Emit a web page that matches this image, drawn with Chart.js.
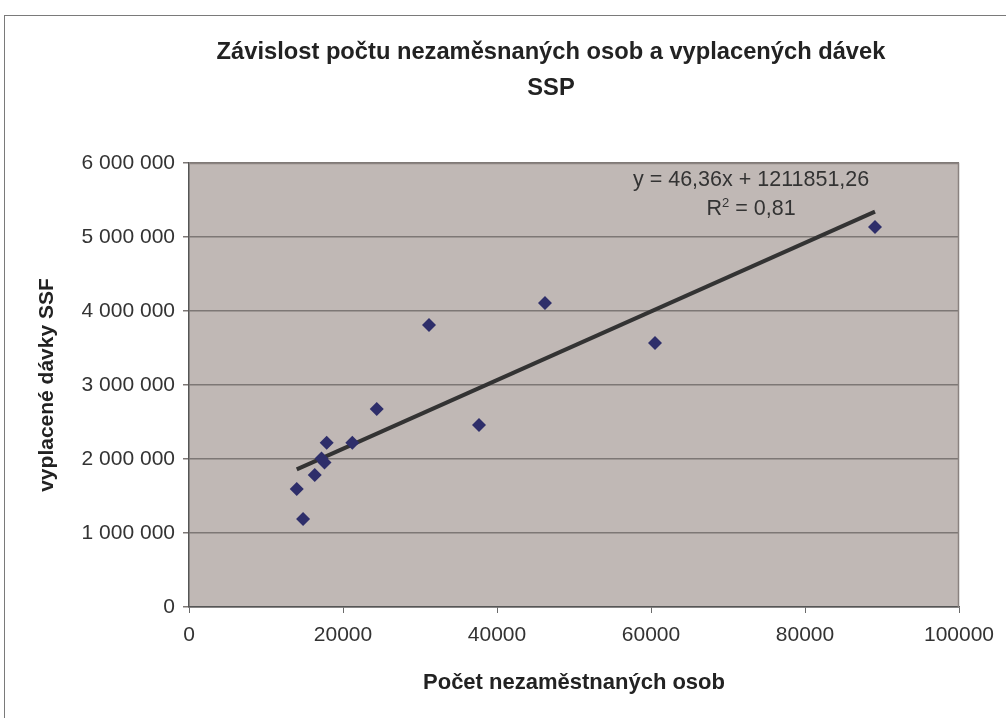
<!DOCTYPE html>
<html>
<head>
<meta charset="utf-8">
<script src="https://cdn.jsdelivr.net/npm/chart.js@4.4.0/dist/chart.umd.min.js"></script>
<style>
  html, body { margin: 0; padding: 0; background: #ffffff; }
  #wrap { position: relative; width: 1006px; height: 718px; }
  canvas { display: block; }
</style>
</head>
<body>
<div id="wrap"><canvas id="c" width="1006" height="718"></canvas></div>
<script>
// ---- data ----
const unemployed = [13990, 14810, 16330, 17210, 17600, 17880, 21210, 24380, 31170, 37660, 46230, 60520, 89090];
const benefits = [1595000, 1189000, 1784000, 2007000, 1953000, 2220000, 2220000, 2676000, 3811000, 2459000, 4108000, 3568000, 5135000];
const trendSlope = 46.36;
const trendIntercept = 1211851.26;
const equationText = 'y = 46,36x + 1211851,26';
const rSquaredText = ' = 0,81';
const titleLines = ['Závislost počtu nezaměsnaných osob a vyplacených dávek', 'SSP'];
const xAxisTitle = 'Počet nezaměstnaných osob';
const yAxisTitle = 'vyplacené dávky SSF';
const xTickValues = [0, 20000, 40000, 60000, 80000, 100000];
const xTickLabels = ['0', '20000', '40000', '60000', '80000', '100000'];
const yTickValues = [0, 1000000, 2000000, 3000000, 4000000, 5000000, 6000000];
const yTickLabels = ['0', '1 000 000', '2 000 000', '3 000 000', '4 000 000', '5 000 000', '6 000 000'];

const points = unemployed.map((x, i) => ({x: x, y: benefits[i]}));
const xMin = Math.min(...unemployed), xMax = Math.max(...unemployed);
const trend = [
  {x: xMin, y: trendSlope * xMin + trendIntercept},
  {x: xMax, y: trendSlope * xMax + trendIntercept}
];

const FONT = "'Liberation Sans', Arial, sans-serif";
const TEXT = '#333333';

const framePlugin = {
  id: 'frame',
  beforeDraw(chart) {
    const ctx = chart.ctx;
    ctx.save();
    ctx.strokeStyle = '#7a7a7a';
    ctx.lineWidth = 1;
    ctx.strokeRect(4.5, 15.5, 1200, 900);
    const a = chart.chartArea;
    ctx.fillStyle = '#c0b8b5';
    ctx.fillRect(a.left, a.top, a.right - a.left, a.bottom - a.top);
    // chart title
    ctx.fillStyle = '#222222';
    ctx.font = 'bold 23.7px ' + FONT;
    ctx.textAlign = 'center';
    ctx.textBaseline = 'middle';
    ctx.fillText(titleLines[0], 551, 52);
    ctx.fillText(titleLines[1], 551, 88);
    ctx.restore();
  },
  afterDatasetsDraw(chart) {
    const ctx = chart.ctx;
    const a = chart.chartArea;
    ctx.save();
    ctx.strokeStyle = '#8a8280';
    ctx.lineWidth = 1.5;
    ctx.beginPath();
    ctx.moveTo(a.left, a.top + 0.5);
    ctx.lineTo(a.right - 0.5, a.top + 0.5);
    ctx.lineTo(a.right - 0.5, a.bottom);
    ctx.stroke();
    // equation label placed in data space
    const xs = chart.scales.x, ys = chart.scales.y;
    const cx = xs.getPixelForValue(73000);
    ctx.fillStyle = TEXT;
    ctx.textBaseline = 'middle';
    ctx.font = '21.5px ' + FONT;
    ctx.textAlign = 'center';
    ctx.fillText(equationText, cx, ys.getPixelForValue(5770000));
    const ry = ys.getPixelForValue(5375000);
    const wR = ctx.measureText('R').width;
    const wRest = ctx.measureText(rSquaredText).width;
    ctx.font = '13px ' + FONT;
    const w2 = ctx.measureText('2').width;
    const total = wR + w2 + wRest;
    let x0 = cx - total / 2;
    ctx.textAlign = 'left';
    ctx.font = '21.5px ' + FONT;
    ctx.fillText('R', x0, ry);
    ctx.font = '13px ' + FONT;
    ctx.fillText('2', x0 + wR, ry - 6);
    ctx.font = '21.5px ' + FONT;
    ctx.fillText(rSquaredText, x0 + wR + w2, ry);
    ctx.restore();
  }
};

new Chart(document.getElementById('c'), {
  type: 'scatter',
  data: {
    datasets: [
      {
        label: 'data',
        data: points,
        pointStyle: 'rectRot',
        pointRadius: 7,
        pointHoverRadius: 7,
        backgroundColor: '#2e2e6a',
        borderColor: '#2e2e6a',
        borderWidth: 0,
        order: 1
      },
      {
        label: 'trend',
        type: 'line',
        data: trend,
        borderColor: '#333333',
        borderWidth: 4,
        pointRadius: 0,
        fill: false,
        order: 2
      }
    ]
  },
  plugins: [framePlugin],
  options: {
    responsive: false,
    animation: false,
    events: [],
    layout: { padding: { left: 0, right: 47, top: 163, bottom: 0 } },
    plugins: {
      legend: { display: false },
      tooltip: { enabled: false },
      title: { display: false }
    },
    scales: {
      x: {
        type: 'linear',
        min: 0, max: 100000,
        afterBuildTicks(scale) { scale.ticks = xTickValues.map(v => ({value: v})); },
        afterFit(scale) { scale.height = 111; },
        ticks: {
          color: TEXT,
          font: { family: FONT, size: 21 },
          padding: 10,
          maxRotation: 0,
          callback(v) { const i = xTickValues.indexOf(v); return i >= 0 ? xTickLabels[i] : ''; }
        },
        grid: { drawOnChartArea: false, drawTicks: true, tickLength: 6, color: '#6a6a6a' },
        border: { color: '#555555', width: 1.5 },
        title: {
          display: true,
          text: xAxisTitle,
          color: '#222222',
          font: { family: FONT, size: 22, weight: 'bold', lineHeight: 1.2 },
          padding: { top: 0, bottom: 22 }
        }
      },
      y: {
        type: 'linear',
        min: 0, max: 6000000,
        afterBuildTicks(scale) { scale.ticks = yTickValues.map(v => ({value: v})); },
        afterFit(scale) { scale.width = 189; },
        ticks: {
          color: TEXT,
          font: { family: FONT, size: 21 },
          padding: 8,
          callback(v) { const i = yTickValues.indexOf(v); return i >= 0 ? yTickLabels[i] : ''; }
        },
        grid: { drawOnChartArea: true, drawTicks: true, tickLength: 6, color: '#7d7775', lineWidth: 1.5 },
        border: { color: '#555555', width: 1.5 },
        title: {
          display: true,
          text: yAxisTitle,
          color: '#222222',
          font: { family: FONT, size: 21, weight: 'bold', lineHeight: 1.2 },
          padding: { top: 35, bottom: 0 }
        }
      }
    }
  }
});
</script>
</body>
</html>
